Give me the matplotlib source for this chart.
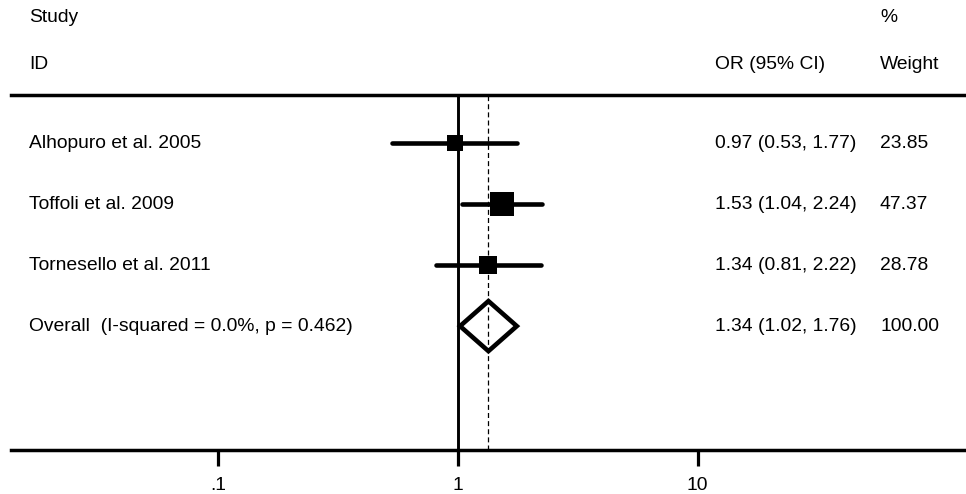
import numpy as np
import matplotlib
matplotlib.use("Agg")
import matplotlib.pyplot as plt
import matplotlib.transforms as mtransforms

# Datos del forest plot
estudios = ["Alhopuro et al. 2005", "Toffoli et al. 2009", "Tornesello et al. 2011"]
or_est = [0.97, 1.53, 1.34]
ci_inf = [0.53, 1.04, 0.81]
ci_sup = [1.77, 2.24, 2.22]
pesos = [23.85, 47.37, 28.78]

global_etiqueta = "Overall  (I-squared = 0.0%, p = 0.462)"
global_or = 1.34
global_inf = 1.02
global_sup = 1.76
global_peso = 100.00

ticks = [0.1, 1, 10]
tick_etiquetas = [".1", "1", "10"]

plt.rcParams['font.family'] = ['Liberation Sans', 'DejaVu Sans']
fs = 13.9

fig = plt.figure(figsize=(9.66, 4.94), dpi=100)
W, H = 966, 494
ax = fig.add_axes([11 / W, 1 - 450 / H, 955 / W, 355 / H])

ax.set_xscale('log')
ax.set_xlim(0.01361, 132.1)
ax.set_ylim(5.03, -0.787)

# texto en x de la figura, y en datos
tr = mtransforms.blended_transform_factory(fig.transFigure, ax.transData)

n = len(estudios)
for i in range(n):
    ax.plot([ci_inf[i], ci_sup[i]], [i, i], color='black', lw=3.3,
            solid_capstyle='round', zorder=3)
    lado = 2.45 * np.sqrt(pesos[i])
    ax.plot(or_est[i], i, marker='s', markersize=lado, color='black',
            markeredgewidth=0, zorder=4)
    ax.text(29 / W, i, estudios[i], transform=tr, fontsize=fs, va='center')
    ax.text(715 / W, i, "%.2f (%.2f, %.2f)" % (or_est[i], ci_inf[i], ci_sup[i]),
            transform=tr, fontsize=fs, va='center')
    ax.text(880 / W, i, "%.2f" % pesos[i], transform=tr, fontsize=fs, va='center')

# rombo del efecto global
fila = n
h = 0.41
ax.fill([global_inf, global_or, global_sup, global_or],
        [fila, fila - h, fila, fila + h],
        facecolor='none', edgecolor='black', lw=3.3, joinstyle='miter', zorder=4)
ax.text(29 / W, fila, global_etiqueta, transform=tr, fontsize=fs, va='center')
ax.text(715 / W, fila, "%.2f (%.2f, %.2f)" % (global_or, global_inf, global_sup),
        transform=tr, fontsize=fs, va='center')
ax.text(880 / W, fila, "%.2f" % global_peso, transform=tr, fontsize=fs, va='center')

# encabezados
ax.text(29 / W, -2.05, "Study", transform=tr, fontsize=fs, va='center', clip_on=False)
ax.text(29 / W, -1.28, "ID", transform=tr, fontsize=fs, va='center', clip_on=False)
ax.text(715 / W, -1.28, "OR (95% CI)", transform=tr, fontsize=fs, va='center', clip_on=False)
ax.text(880 / W, -2.05, "%", transform=tr, fontsize=fs, va='center', clip_on=False)
ax.text(880 / W, -1.28, "Weight", transform=tr, fontsize=fs, va='center', clip_on=False)

# lineas verticales
ax.axvline(1, color='black', lw=2.1, zorder=2)
ax.axvline(global_or, color='black', lw=0.9, linestyle=(0, (4, 2.5)), zorder=2)

for lado_sp in ['left', 'right']:
    ax.spines[lado_sp].set_visible(False)
ax.spines['top'].set_linewidth(2.5)
ax.spines['bottom'].set_linewidth(2.5)

ax.set_yticks([])
ax.set_xticks(ticks)
ax.set_xticklabels(tick_etiquetas)
ax.xaxis.set_minor_locator(matplotlib.ticker.NullLocator())
ax.tick_params(axis='x', direction='out', length=11.5, width=2.3, pad=8,
               labelsize=fs)

fig.savefig("out.png", dpi=100)
